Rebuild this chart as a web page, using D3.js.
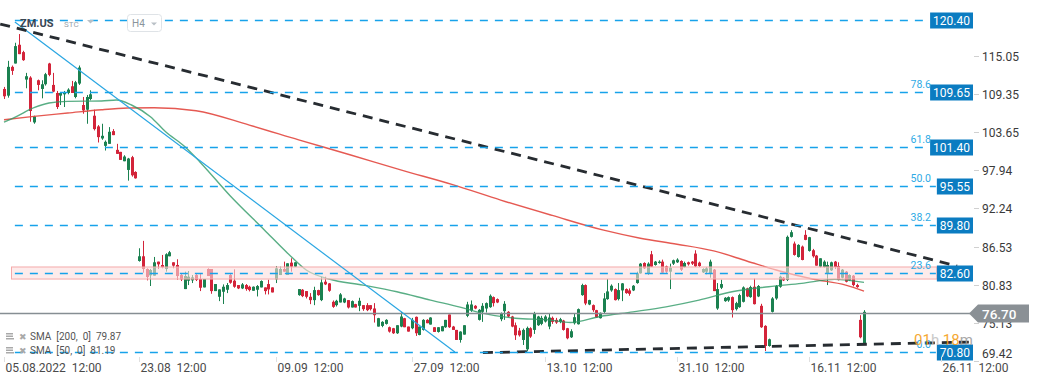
<!DOCTYPE html>
<html>
<head>
<meta charset="utf-8">
<script src="https://cdn.jsdelivr.net/npm/d3@7"></script>
<style>
  body { margin: 0; background: #fff; font-family: Roboto, "Open Sans", sans-serif; }
  svg { display: block; }
  text { white-space: pre; }
</style>
</head>
<body>
<svg id="chart" width="1041" height="385"></svg>
<script>
// ZM.US, H4 bars: [open, high, low, close]
const candles = [
  // 05.08 - 22.08
  [110.1,110.4,108.6,109.0],[109.1,114.3,108.8,113.4],[113.4,113.6,112.2,112.8],[113.9,117.0,113.9,116.5],
  [116.7,118.3,115.3,115.3],[115.6,115.8,114.3,114.4],[111.5,112.5,110.2,112.0],[111.8,112.0,105.2,106.8],
  [105.1,106.1,104.9,106.0],[111.4,111.5,109.9,110.7],[110.1,111.4,108.7,110.8],[110.8,112.5,110.6,112.3],
  [113.9,114.0,112.0,112.2],[110.7,112.5,109.6,109.7],[109.5,109.8,107.1,107.4],[109.1,109.6,107.7,109.5],
  [109.3,109.8,107.4,109.6],[109.5,110.2,109.3,110.0],[110.5,111.3,109.5,109.5],[108.9,111.3,108.7,111.1],
  [110.9,113.6,110.7,113.3],[107.7,108.9,106.4,106.9],[107.0,109.2,104.9,108.9],[108.6,109.9,108.4,109.3],
  [106.1,107.0,103.9,104.1],[104.5,104.7,102.1,102.9],[102.7,104.9,102.5,103.1],[101.6,102.4,100.9,102.2],
  [101.9,104.4,101.9,103.7],[103.8,104.1,103.2,103.2],[101.0,101.9,100.4,100.4],[100.7,100.7,99.5,99.5],
  [99.3,100.2,99.3,100.0],[98.0,99.8,96.4,99.7],[99.9,100.1,97.0,97.2],[97.7,97.8,96.7,96.75],
  // 23.08 - 08.09
  [84.4,86.3,84.3,85.1],[85.1,87.4,82.65,83.2],[83.2,83.3,81.5,82.0],[82.25,83.2,80.66,83.05],
  [82.2,85.0,82.2,84.2],[84.3,84.3,83.2,83.9],[83.8,85.3,83.3,83.45],[83.2,85.55,82.8,85.4],
  [85.1,85.9,85.1,85.7],[84.2,84.2,83.3,83.7],[83.8,84.65,81.6,82.15],[82.3,82.5,81.4,81.65],
  [80.2,82.8,80.2,82.15],[81.45,82.9,80.8,82.05],[81.5,82.3,81.1,81.95],[82.3,82.6,81.4,81.55],
  [81.7,82.6,79.9,80.4],[80.45,81.7,80.45,81.7],[83.2,83.3,82.15,82.15],[83.2,83.2,79.5,79.9],
  [79.9,80.95,79.9,80.95],[79.05,80.15,78.4,80.15],[79.8,80.9,77.97,80.55],[80.1,81.1,79.6,80.8],
  [82.3,82.6,81.0,81.15],[81.45,83.15,80.4,80.55],[80.8,80.8,80.2,80.3],[80.3,81.1,80.2,80.9],
  [80.8,80.95,79.95,80.2],[80.55,80.7,79.85,80.05],[79.95,80.6,79.95,80.55],[80.1,80.8,79.1,80.65],
  [80.45,81.5,80.45,81.4],[80.45,80.45,79.4,79.9],[80.95,81.6,79.4,80.15],[80.45,80.45,79.7,79.7],
  // 09.09 - 26.09
  [81.65,83.65,81.1,83.3],[82.3,83.55,82.3,83.2],[83.2,84.3,82.8,82.8],[82.3,84.05,82.3,84.05],
  [84.15,84.8,82.8,83.55],[83.55,84.2,83.5,84.2],[79.3,80.2,79.2,80.2],[80.1,80.2,79.0,79.15],
  [79.9,79.9,78.8,79.05],[79.05,79.6,77.95,78.55],[78.55,80.55,77.8,80.05],[80.05,80.1,79.2,79.3],
  [78.55,82.05,78.4,81.2],[81.3,82.05,80.8,80.9],[81.05,81.1,79.8,79.95],[78.3,78.5,77.4,77.55],
  [77.8,78.6,77.6,78.45],[78.2,79.6,78.2,79.4],[78.2,78.9,78.1,78.8],[78.55,78.55,77.3,77.45],
  [77.45,78.5,77.45,78.4],[77.95,78.0,77.45,77.45],[77.7,78.9,76.9,78.45],[77.8,77.8,76.95,77.2],
  [77.8,78.1,76.9,77.05],[77.8,77.8,77.0,77.2],[77.3,78.1,75.2,76.3],[74.6,75.9,74.6,75.85],
  [74.7,75.4,74.5,75.3],[75.0,75.7,74.9,75.6],[74.5,74.6,73.7,73.85],[74.35,74.4,73.5,73.6],
  [73.6,74.8,73.5,74.8],[74.6,76.8,74.5,76.1],[75.85,75.9,74.5,74.5],[74.6,74.6,73.85,73.85],
  // 27.09 - 12.10
  [74.35,75.9,74.2,75.6],[76.05,76.1,73.2,73.6],[73.35,74.6,73.3,74.6],[74.1,75.7,74.0,75.6],
  [75.6,75.7,75.1,75.1],[74.9,76.0,74.9,75.95],[74.5,74.5,73.8,73.8],[73.8,74.5,73.7,74.5],
  [73.9,74.7,73.9,74.65],[74.5,75.6,74.4,75.6],[76.4,76.4,74.4,74.5],[74.6,74.7,74.1,74.1],
  [74.1,74.1,72.6,72.6],[72.6,73.9,72.2,73.85],[73.4,74.8,73.4,74.8],[76.2,78.3,76.0,77.9],
  [77.0,78.5,76.8,77.9],[77.7,77.8,77.2,77.3],[75.6,77.2,75.5,77.1],[76.8,78.1,75.3,77.7],
  [77.3,78.2,76.7,78.1],[77.5,79.4,77.4,79.2],[79.0,79.1,77.6,78.1],[78.7,78.8,78.1,78.2],
  [75.7,76.7,75.4,76.6],[76.9,78.4,75.6,78.0],[76.8,76.9,76.0,76.1],[76.1,76.2,74.5,74.6],
  [74.8,75.2,72.6,73.3],[74.0,74.4,73.1,73.3],[72.6,74.3,71.85,74.1],[71.2,74.6,70.9,74.4],
  [74.35,74.5,72.9,73.1],[74.1,76.8,73.5,76.6],[74.8,76.2,74.7,76.1],[75.0,76.2,74.8,75.9],
  // 13.10 - 28.10
  [75.35,76.3,75.2,76.1],[74.6,76.5,74.2,75.95],[75.9,76.1,75.0,75.3],[75.6,75.9,75.0,75.2],
  [75.3,75.9,75.1,75.7],[75.5,75.6,74.0,74.1],[74.35,74.4,72.7,72.85],[73.0,74.2,72.9,73.9],
  [75.1,76.6,74.9,76.0],[74.95,77.3,74.9,77.2],[79.3,81.0,79.2,80.8],[80.8,80.9,77.8,78.05],
  [77.9,78.6,77.8,78.55],[77.8,77.9,76.8,77.05],[77.05,77.1,75.9,75.95],[75.85,76.7,75.8,76.65],
  [76.8,79.6,76.6,78.8],[78.7,81.7,78.6,79.85],[80.0,80.9,79.8,80.7],[80.2,80.3,78.5,78.55],
  [78.7,81.1,78.5,80.05],[80.0,81.1,78.4,81.05],[80.2,80.3,79.5,79.6],[80.0,80.3,79.2,79.5],
  [80.0,80.8,79.9,80.7],[81.1,82.8,81.0,82.55],[82.55,84.1,82.5,84.0],[84.1,84.2,83.2,83.3],
  [82.6,84.2,82.3,84.0],[85.4,85.9,83.5,83.55],[83.8,84.4,83.7,84.3],[84.1,84.5,84.0,84.3],
  [84.3,84.6,82.5,82.65],[83.6,83.7,82.6,82.8],[82.8,84.0,80.2,83.4],[84.0,84.6,83.8,84.5],
  // 31.10 - 15.11
  [84.2,84.8,84.1,84.6],[84.4,84.5,82.9,83.1],[83.5,84.3,83.4,84.1],[84.2,84.3,83.7,83.9],
  [84.3,84.4,83.8,84.0],[85.5,86.0,83.5,83.6],[84.15,84.3,83.5,83.65],[82.7,83.3,82.6,83.2],
  [82.8,83.5,82.4,83.3],[82.55,84.6,81.9,84.3],[83.1,83.2,79.9,79.9],[77.3,81.1,77.1,80.2],
  [80.4,81.6,80.2,80.95],[78.4,79.0,78.3,78.9],[78.5,79.1,78.3,79.0],[79.0,79.1,75.95,77.05],
  [77.2,78.3,77.0,78.1],[77.5,79.5,77.4,79.3],[78.3,80.6,78.2,80.45],[80.3,80.4,79.0,79.1],
  [79.0,80.7,78.9,80.5],[80.55,81.8,77.9,77.95],[79.1,80.8,79.0,80.65],[77.7,78.0,74.4,74.5],
  [74.7,74.8,70.95,71.7],[71.7,72.8,71.6,72.7],[76.8,79.0,76.7,78.8],[78.8,80.8,78.6,80.65],
  [80.55,82.2,80.4,82.05],[81.9,82.0,81.4,81.5],[81.55,88.2,81.4,88.0],[88.0,89.0,87.9,88.7],
  [87.0,87.3,85.2,85.3],[85.0,86.9,84.9,86.8],[86.55,86.7,84.5,84.55],[88.3,89.0,87.5,87.55],
  // 16.11 - 22.11
  [85.9,88.0,85.8,87.95],[86.0,86.2,84.9,85.1],[85.2,85.3,83.7,83.7],[83.55,84.8,83.4,84.8],
  [83.5,84.5,83.4,84.3],[82.6,84.3,80.8,83.8],[83.0,84.3,82.9,84.2],[84.3,84.4,83.2,83.5],
  [83.65,84.2,81.5,81.55],[81.9,83.2,81.8,83.1],[82.8,82.9,81.2,81.3],[81.5,82.4,81.4,82.3],
  [82.2,82.3,80.6,80.8],[80.8,81.0,80.4,80.5],[75.6,76.3,72.85,73.0],[72.1,77.05,72.0,76.8]
];

// moving averages: [bar, value]
const sma200 = [[0,105.5],[8,106.0],[17,106.5],[26,107.0],[33,107.25],[40,107.3],[51,106.85],[65,104.7],
  [78,102.5],[92,100.2],[105,98.0],[119,95.8],[132,93.5],[146,91.2],[160,89.0],[170,87.8],[180,86.9],
  [190,85.9],[199,84.4],[208,82.9],[217,81.7],[226,80.8],[231,79.9]];
const sma50 = [[0,105.15],[3,105.9],[8,107.3],[12,108.0],[17,108.25],[26,108.3],[30,108.45],[34,107.7],
  [39,105.95],[43,103.7],[48,101.5],[52,99.2],[60,94.1],[69,89.0],[75,85.6],[80,83.05],[86,81.7],
  [95,80.8],[104,79.8],[113,78.55],[121,77.5],[127,76.6],[136,75.85],[145,75.6],[151,75.2],[159,76.1],
  [168,76.8],[177,77.55],[186,78.55],[195,79.8],[205,80.55],[214,81.05],[223,81.65],[231,81.2]];

const levels = [120.40, 109.65, 101.40, 95.55, 89.80, 82.60, 70.80];
const fibLabels = ["", "78.6", "61.8", "50.0", "38.2", "23.6", "0.0"];
const priceTicks = [115.05, 109.35, 103.65, 97.94, 92.24, 86.53, 80.83, 75.13, 69.42];
const dateTickBars = [0, 36, 72, 108, 144, 180, 216, 252];
const dateTickLabels = ["05.08.2022  12:00", "23.08  12:00", "09.09  12:00", "27.09  12:00",
  "13.10  12:00", "31.10  12:00", "16.11  12:00", "26.11  12:00"];
const zone = { fromBar: 2, low: 81.7, high: 83.5 };
const lastPrice = 76.70;
const trendDown = [[-1, 119.8], [256.4, 83.65]];
const trendUp = [[127.2, 70.7], [260.5, 72.3]];
const trendBlue = [[2.9, 120.1], [119.6, 70.8]];
const fibStartBar = 2.9;
const legendRows = ["SMA  [200,  0]  79.87", "SMA  [50,  0]  81.19"];

var svg = d3.select("#chart");

var x = d3.scaleLinear().domain(dateTickBars).range([4, 139, 276, 412, 545, 677, 809, 941]);
var y = d3.scaleLinear().domain([70.80, 120.40]).range([352, 20]);

var green = "#1b8150", red = "#d3243a";
var levelBlue = "#17a2ea";

svg.append("defs").append("clipPath").attr("id", "plot")
  .append("rect").attr("x", 0).attr("y", 0).attr("width", 975).attr("height", 358);

var plot = svg.append("g").attr("clip-path", "url(#plot)");

// candles
var bar = plot.append("g").selectAll("g").data(candles).join("g")
  .attr("fill", d => d[3] >= d[0] ? green : red)
  .attr("stroke", d => d[3] >= d[0] ? green : red);

bar.append("line")
  .attr("x1", (d, i) => Math.round(x(i)) + 0.5)
  .attr("x2", (d, i) => Math.round(x(i)) + 0.5)
  .attr("y1", d => y(d[1]))
  .attr("y2", d => y(d[2]))
  .attr("stroke-width", 1);

bar.append("rect")
  .attr("stroke", "none")
  .attr("x", (d, i) => Math.round(x(i)) - 1)
  .attr("width", 3)
  .attr("y", d => y(Math.max(d[0], d[3])))
  .attr("height", d => Math.max(1, Math.abs(y(d[0]) - y(d[3]))));

// SMA lines
var smaLine = d3.line().x(d => x(d[0])).y(d => y(d[1])).curve(d3.curveMonotoneX);
plot.append("path").attr("d", smaLine(sma200))
  .attr("fill", "none").attr("stroke", "#e2473f").attr("stroke-width", 1.4).attr("opacity", 0.9);
plot.append("path").attr("d", smaLine(sma50))
  .attr("fill", "none").attr("stroke", "#2f9a66").attr("stroke-width", 1.4).attr("opacity", 0.8);

// support / resistance zone
plot.append("rect")
  .attr("x", x(zone.fromBar))
  .attr("width", 937 - x(zone.fromBar))
  .attr("y", y(zone.high))
  .attr("height", y(zone.low) - y(zone.high))
  .attr("fill", "rgba(252,222,222,0.6)")
  .attr("stroke", "#f4a9a9").attr("stroke-width", 1);

// last price line
plot.append("line")
  .attr("x1", 0).attr("x2", 975)
  .attr("y1", Math.round(y(lastPrice)) + 0.5).attr("y2", Math.round(y(lastPrice)) + 0.5)
  .attr("stroke", "#868e93").attr("stroke-width", 1.3);

// fibonacci levels with value boxes
var lvl = svg.append("g").attr("font-size", 12);
levels.forEach(function (v, i) {
  var yy = Math.round(y(v)) + 0.5;
  var t = lvl.append("text")
    .attr("x", 970).attr("y", yy + 4.5)
    .attr("text-anchor", "end").attr("fill", "#fff")
    .text(v.toFixed(2));
  var w = t.node().getComputedTextLength();
  var bx = 973 - w - 6;
  lvl.insert("rect", "text")
    .attr("x", bx).attr("y", yy - 8).attr("width", w + 6).attr("height", 16)
    .attr("fill", "#0b7cc1");
  lvl.insert("line", "rect")
    .attr("x1", x(fibStartBar)).attr("x2", bx - 1)
    .attr("y1", yy).attr("y2", yy)
    .attr("stroke", levelBlue).attr("stroke-width", 1.4)
    .attr("stroke-dasharray", "8,7");
  if (fibLabels[i]) {
    lvl.append("text")
      .attr("x", 931).attr("y", yy - 5)
      .attr("text-anchor", "end").attr("font-size", 10.5)
      .attr("fill", "#2eaae5")
      .text(fibLabels[i]);
  }
});

// trend lines
var tl = d3.line().x(d => x(d[0])).y(d => y(d[1]));
plot.append("path").attr("d", tl(trendBlue))
  .attr("stroke", "#2aa6e2").attr("stroke-width", 1.2).attr("fill", "none");
plot.append("path").attr("d", tl(trendDown))
  .attr("stroke", "#272c31").attr("stroke-width", 2.8).attr("fill", "none")
  .attr("stroke-dasharray", "10,7");
plot.append("path").attr("d", tl(trendUp))
  .attr("stroke", "#272c31").attr("stroke-width", 2.8).attr("fill", "none")
  .attr("stroke-dasharray", "10,7");

// right price axis
var ax = svg.append("g").attr("font-size", 12).attr("fill", "#3a3a3a");
priceTicks.forEach(function (v) {
  var yy = Math.round(y(v)) + 0.5;
  ax.append("line").attr("x1", 974).attr("x2", 979).attr("y1", yy).attr("y2", yy)
    .attr("stroke", "#d0d0d0");
  ax.append("text").attr("x", 982).attr("y", Math.min(yy + 4, 358)).text(v.toFixed(2));
});

// last price tag
var ly = Math.round(y(lastPrice)) + 0.5;
svg.append("path")
  .attr("d", "M969," + ly + "L978," + (ly - 9) + "H1029V" + (ly + 9) + "H978Z")
  .attr("fill", "#8a9095");
svg.append("text").attr("x", 982).attr("y", ly + 5)
  .attr("font-size", 13.5).attr("font-weight", 500).attr("fill", "#fff")
  .text(lastPrice.toFixed(2));

// candle countdown
var cd = svg.append("text").attr("x", 914).attr("y", 345).attr("font-size", 15).attr("opacity", 0.9);
cd.append("tspan").attr("fill", "#f5a020").text("01");
cd.append("tspan").attr("fill", "#c4c4c4").text("h ");
cd.append("tspan").attr("fill", "#f5a020").text("18");
cd.append("tspan").attr("fill", "#a0a0a0").text("m");

// time axis
var tx = svg.append("g").attr("font-size", 12).attr("fill", "#4a4a4a");
dateTickBars.forEach(function (b, i) {
  var xx = Math.round(x(b)) + 0.5;
  tx.append("line").attr("x1", xx).attr("x2", xx).attr("y1", 357).attr("y2", 362).attr("stroke", "#e0e0e0");
  tx.append("text").attr("x", xx + 1).attr("y", 372).text(dateTickLabels[i]);
});

// indicator legend
legendRows.forEach(function (r, i) {
  var ry = 340 + i * 14;
  var lg = svg.append("g").attr("fill", "#a9a9a9");
  lg.append("rect").attr("x", 6).attr("y", ry - 7).attr("width", 7).attr("height", 1.5);
  lg.append("rect").attr("x", 6).attr("y", ry - 4.5).attr("width", 7).attr("height", 1.5);
  lg.append("rect").attr("x", 6).attr("y", ry - 2).attr("width", 8).attr("height", 1.5);
  lg.append("text").attr("x", 19).attr("y", ry).attr("font-size", 9).text("\u2716");
  svg.append("text").attr("x", 30).attr("y", ry).attr("font-size", 10)
    .attr("fill", "#555").text(r);
});

// header
var hd = svg.append("g");
hd.append("text").attr("x", 20).attr("y", 27).attr("font-size", 11).attr("font-weight", "bold")
  .attr("fill", "#3a4653").text("ZM.US");
hd.append("text").attr("x", 64).attr("y", 26.5).attr("font-size", 8).attr("fill", "#9aa3ab").text("STC");
hd.append("path").attr("d", "M87,20H94L90.5,23.5Z").attr("fill", "#b9c0c6");
hd.append("rect").attr("x", 127.5).attr("y", 14.5).attr("width", 34).attr("height", 17).attr("rx", 3)
  .attr("fill", "#fff").attr("stroke", "#dfe3e7");
hd.append("text").attr("x", 132).attr("y", 27).attr("font-size", 10).attr("fill", "#8a949c").text("H4");
hd.append("path").attr("d", "M151,22.5H157L154,25.5Z").attr("fill", "#b9c0c6");
</script>
</body>
</html>
